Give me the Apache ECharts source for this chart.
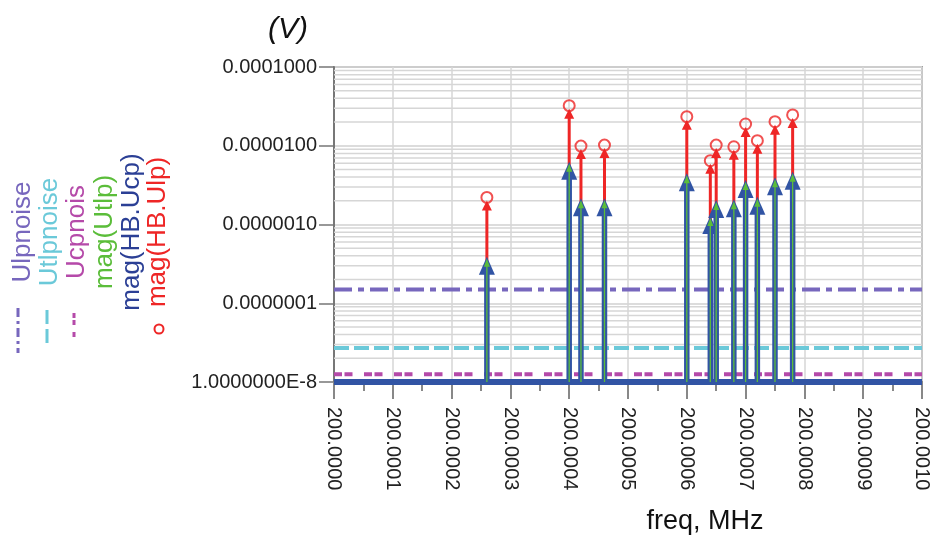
<!DOCTYPE html>
<html>
<head>
<meta charset="utf-8">
<script src="https://cdn.jsdelivr.net/npm/echarts@6/dist/echarts.min.js"></script>
<style>
    html, body { margin: 0; padding: 0; background: #fff; }
    #chart { width: 932px; height: 544px; }
</style>
</head>
<body>
<div id="chart"></div>
<script type="text/javascript">
    // offset from 200 MHz, in Hz
    const freqHz = [260, 400, 420, 460, 600, 640, 650, 680, 700, 720, 750, 780];
    const magUlp = [2.21e-6, 3.23e-5, 9.9e-6, 1.02e-5, 2.34e-5, 6.46e-6, 1.02e-5, 9.7e-6, 1.89e-5, 1.16e-5, 2.02e-5, 2.46e-5];
    const magUcp = [3.9e-7, 6.27e-6, 2.15e-6, 2.15e-6, 4.47e-6, 1.28e-6, 2.05e-6, 2.09e-6, 3.67e-6, 2.25e-6, 3.97e-6, 4.68e-6];
    const magUtlp = [3.9e-7, 6.27e-6, 2.15e-6, 2.15e-6, 4.47e-6, 1.28e-6, 2.05e-6, 2.09e-6, 3.67e-6, 2.25e-6, 3.97e-6, 4.68e-6];
    const ulpNoise = 1.5e-7;
    const utlpNoise = 2.7e-8;
    const ucpNoise = 1.25e-8;
    const floorLevel = 1e-8;
    const xRange = [0, 1000];
    const yTickLabels = {'-8': '1.0000000E-8', '-7': '0.0000001', '-6': '0.0000010', '-5': '0.0000100', '-4': '0.0001000'};
    const legendNames = ['Ulpnoise', 'Utlpnoise', 'Ucpnois', 'mag(Utlp)', 'mag(HB.Ucp)', 'mag(HB.Ulp)'];

    const FONT = 'Liberation Sans, Arial, sans-serif';
    const C_PURPLE = '#7767bd', C_CYAN = '#6bc9d9', C_MAG = '#b54aa9';
    const C_GREEN = '#5bbd3a', C_BLUE = '#3154a4', C_DBLUE = '#2b3f95', C_RED = '#ee2626';

    // minor log grid lines (2..9 in each decade)
    let minorGrid = [];
    for (let e = -8; e < -4; e++) {
        for (let m = 2; m <= 9; m++) {
            minorGrid.push([xRange[0], m * Math.pow(10, e)]);
        }
    }

    function pairs(vals) {
        return freqHz.map(function (f, i) { return [f, vals[i]]; });
    }

    function stem(color, width, triW, triH, tipOffset) {
        return function (params, api) {
            let top = api.coord([api.value(0), api.value(1)]);
            let base = api.coord([api.value(0), floorLevel]);
            let tipY = top[1] + tipOffset;
            return {
                type: 'group',
                children: [{
                    type: 'line',
                    shape: {x1: top[0], y1: base[1], x2: top[0], y2: tipY + triH - 1},
                    style: {stroke: color, lineWidth: width}
                }, {
                    type: 'polygon',
                    shape: {points: [[top[0], tipY], [top[0] - triW / 2, tipY + triH], [top[0] + triW / 2, tipY + triH]]},
                    style: {fill: color}
                }]
            };
        };
    }

    function gridLine(params, api) {
        let a = api.coord([xRange[0], api.value(1)]);
        let b = api.coord([xRange[1], api.value(1)]);
        return {
            type: 'line',
            shape: {x1: a[0], y1: a[1], x2: b[0], y2: b[1]},
            style: {stroke: '#d6d6d6', lineWidth: 1.5}
        };
    }

    function hline(name, val, color, dash) {
        return {
            name: name, type: 'line', z: 2, silent: true, showSymbol: false,
            data: [[xRange[0], val], [xRange[1], val]],
            lineStyle: {color: color, width: 4, type: dash}
        };
    }

    // legend drawn as rotated text
    const legendX = [23, 50, 77, 105, 132, 158];
    const legendColors = [C_PURPLE, C_CYAN, C_MAG, C_GREEN, C_DBLUE, C_RED];
    let graphics = legendNames.map(function (n, i) {
        return {
            type: 'text', x: legendX[i], y: 232, rotation: Math.PI / 2,
            style: {text: n, fill: legendColors[i], font: '26px ' + FONT, align: 'center', verticalAlign: 'middle'}
        };
    });
    graphics.push(
        {type: 'line', shape: {x1: 18, y1: 308, x2: 18, y2: 353}, style: {stroke: C_PURPLE, lineWidth: 3, lineDash: [9, 4, 3, 4]}},
        {type: 'line', shape: {x1: 47, y1: 310, x2: 47, y2: 346}, style: {stroke: C_CYAN, lineWidth: 3, lineDash: [14, 5]}},
        {type: 'line', shape: {x1: 74, y1: 313, x2: 74, y2: 339}, style: {stroke: C_MAG, lineWidth: 3, lineDash: [5, 2, 5, 7]}},
        {type: 'circle', shape: {cx: 159, cy: 329, r: 4.5}, style: {stroke: C_RED, fill: 'none', lineWidth: 2}},
        {type: 'text', x: 705, y: 522, style: {text: 'freq, MHz', fill: '#111', font: '27px ' + FONT, align: 'center', verticalAlign: 'middle'}}
    );

    let myChart = echarts.init(document.getElementById('chart'));
    let option = {
        animation: false,
        title: {
            text: '(V)', left: 263, top: 10,
            textStyle: {fontSize: 30, fontStyle: 'italic', fontWeight: 'normal', color: '#111', fontFamily: FONT}
        },
        grid: {left: 334, right: 7, top: 67, bottom: 162, show: true, borderColor: '#a0a0a0', borderWidth: 2},
        xAxis: {
            type: 'value', min: xRange[0], max: xRange[1], interval: 100,
            axisLine: {show: true, onZero: false, lineStyle: {color: '#777', width: 2}},
            axisTick: {show: true, length: 17, lineStyle: {color: '#888', width: 2}},
            minorTick: {show: true, splitNumber: 2, length: 9, lineStyle: {color: '#888', width: 2}},
            splitLine: {show: true, lineStyle: {color: '#d6d6d6', width: 1.5}},
            axisLabel: {
                rotate: -90, margin: 25, fontSize: 20, color: '#222', fontFamily: FONT,
                formatter: function (v) { return (200 + v / 1e6).toFixed(4); }
            }
        },
        yAxis: {
            type: 'log', logBase: 10, min: 1e-8, max: 1e-4, splitNumber: 4,
            axisLine: {show: true, lineStyle: {color: '#777', width: 2}},
            axisTick: {show: true, length: 15, lineStyle: {color: '#777', width: 1.5}},
            splitLine: {show: true, lineStyle: {color: '#d0d0d0', width: 1.5}},
            axisLabel: {
                margin: 17, fontSize: 20, color: '#222', fontFamily: FONT,
                formatter: function (v) { return yTickLabels[String(Math.round(Math.log10(v)))] || ''; }
            }
        },
        series: [
            {name: 'grid', type: 'custom', z: 1, silent: true, data: minorGrid, encode: {x: 0, y: 1}, renderItem: gridLine},
            hline('Ulpnoise', ulpNoise, C_PURPLE, [18, 6, 6, 6]),
            hline('Utlpnoise', utlpNoise, C_CYAN, [15, 5]),
            hline('Ucpnois', ucpNoise, C_MAG, [8, 2.5, 8, 11.5]),
            {
                name: 'floor', type: 'line', z: 3, silent: true, showSymbol: false,
                data: [[xRange[0], floorLevel], [xRange[1], floorLevel]],
                lineStyle: {color: C_BLUE, width: 6}
            },
            {name: 'mag(HB.Ulp)', type: 'custom', z: 4, data: pairs(magUlp), encode: {x: 0, y: 1}, renderItem: stem(C_RED, 3, 10, 10, 3)},
            {name: 'mag(HB.Ucp)', type: 'custom', z: 5, data: pairs(magUcp), encode: {x: 0, y: 1}, renderItem: stem(C_BLUE, 5.5, 16, 18, 0)},
            {name: 'mag(Utlp)', type: 'custom', z: 6, data: pairs(magUtlp), encode: {x: 0, y: 1}, renderItem: stem(C_GREEN, 1.3, 6, 8, 2)},
            {
                name: 'mag(HB.Ulp) marker', type: 'scatter', z: 7, data: pairs(magUlp),
                symbol: 'circle', symbolSize: 11,
                itemStyle: {color: 'rgba(0,0,0,0)', borderColor: C_RED, borderWidth: 2}
            }
        ],
        graphic: graphics
    };
    myChart.setOption(option);
</script>
</body>
</html>
